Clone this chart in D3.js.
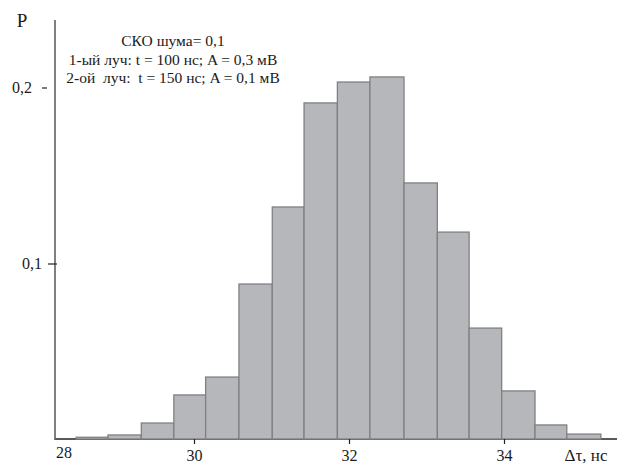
<!DOCTYPE html>
<html>
<head>
<meta charset="utf-8">
<script src="https://cdn.jsdelivr.net/npm/d3@7"></script>
<style>
  body { margin: 0; background: #fff; }
  text { font-family: "Liberation Serif", "DejaVu Serif", serif; fill: #1a1a1a; }
</style>
</head>
<body>
<script>
var w = 619;
var h = 465;

// histogram bin edges (ns) and probabilities
var binEdges = [28.48, 28.89, 29.32, 29.74, 30.15, 30.58, 31.01, 31.42, 31.85,
                32.27, 32.71, 33.14, 33.55, 33.97, 34.40, 34.81, 35.25];
var probs = [0.001, 0.0023, 0.0091, 0.0251, 0.0353, 0.0883, 0.1322, 0.1915,
             0.2034, 0.2063, 0.1459, 0.1179, 0.0632, 0.0274, 0.0080, 0.0028];

var xTicks = [30, 32, 34];
var yTicks = [0.1, 0.2];
var notes = ["СКО шума= 0,1",
             "1-ый луч: t = 100 нс; A = 0,3 мВ",
             "2-ой  луч:  t = 150 нс; A = 0,1 мВ"];

var x = d3.scaleLinear().domain([30, 34]).range([194, 504]);
var y = d3.scaleLinear().domain([0, 0.2]).range([439, 88]);

var svg = d3.select("body").append("svg").attr("width", w).attr("height", h);

var bins = probs.map(function(p, i) { return { x0: binEdges[i], x1: binEdges[i + 1], p: p }; });

// x axis line
svg.append("line")
  .attr("x1", 55).attr("x2", 617)
  .attr("y1", y(0)).attr("y2", y(0))
  .attr("stroke", "#222").attr("stroke-width", 1.3);

// bars
svg.append("g").selectAll("rect")
  .data(bins)
  .enter().append("rect")
  .attr("x", function(d) { return x(d.x0); })
  .attr("width", function(d) { return x(d.x1) - x(d.x0); })
  .attr("y", function(d) { return y(d.p); })
  .attr("height", function(d) { return y(0) - y(d.p); })
  .attr("fill", "#b6b7bb")
  .attr("stroke", "#7f8083")
  .attr("stroke-width", 1.3);

// y axis line
svg.append("line")
  .attr("x1", 55).attr("x2", 55)
  .attr("y1", 20).attr("y2", y(0) + 1)
  .attr("stroke", "#606060").attr("stroke-width", 1.6);

// x axis ticks
var xAxis = svg.append("g")
  .attr("transform", "translate(0," + y(0) + ")")
  .call(d3.axisBottom(x).tickValues(xTicks).tickSize(5).tickPadding(6)
    .tickFormat(function(d) { return d; }));
xAxis.select(".domain").remove();
xAxis.selectAll("line").attr("stroke", "#222").attr("stroke-width", 1.2);
xAxis.selectAll("text").style("font-size", "16px")
  .attr("font-family", "Liberation Serif").attr("fill", "#1a1a1a");

// "28" sits at the origin, a bit higher than the other labels
svg.append("text")
  .attr("x", 64).attr("y", 458)
  .attr("text-anchor", "middle")
  .style("font-size", "16px")
  .text("28");

// y axis ticks
var yAxis = svg.append("g")
  .attr("transform", "translate(57,0)")
  .call(d3.axisLeft(y).tickValues(yTicks).tickSize(9).tickPadding(6)
    .tickFormat(function(d) { return String(d).replace(".", ","); }));
yAxis.select(".domain").remove();
yAxis.selectAll("line").attr("stroke", "#222").attr("stroke-width", 1.2);
yAxis.selectAll("text").style("font-size", "16px")
  .attr("font-family", "Liberation Serif").attr("fill", "#1a1a1a");
// the 0,2 tick is drawn detached from the axis in the original
yAxis.selectAll(".tick").filter(function(d) { return d == 0.2; })
  .attr("transform", "translate(-10," + y(0.2) + ")")
  .select("line").attr("x2", -5).attr("x1", 0);

// axis titles
svg.append("text")
  .attr("x", 22).attr("y", 27)
  .attr("text-anchor", "middle")
  .style("font-size", "19px")
  .text("P");

svg.append("text")
  .attr("x", 586).attr("y", 461)
  .attr("text-anchor", "middle")
  .style("font-size", "17px")
  .text("Δτ, нс");

// annotation
svg.append("g").selectAll("text")
  .data(notes)
  .enter().append("text")
  .attr("x", 173)
  .attr("y", function(d, i) { return 46 + i * 18.5; })
  .attr("text-anchor", "middle")
  .style("font-size", "15.5px")
  .style("white-space", "pre")
  .text(function(d) { return d; });
</script>
</body>
</html>
